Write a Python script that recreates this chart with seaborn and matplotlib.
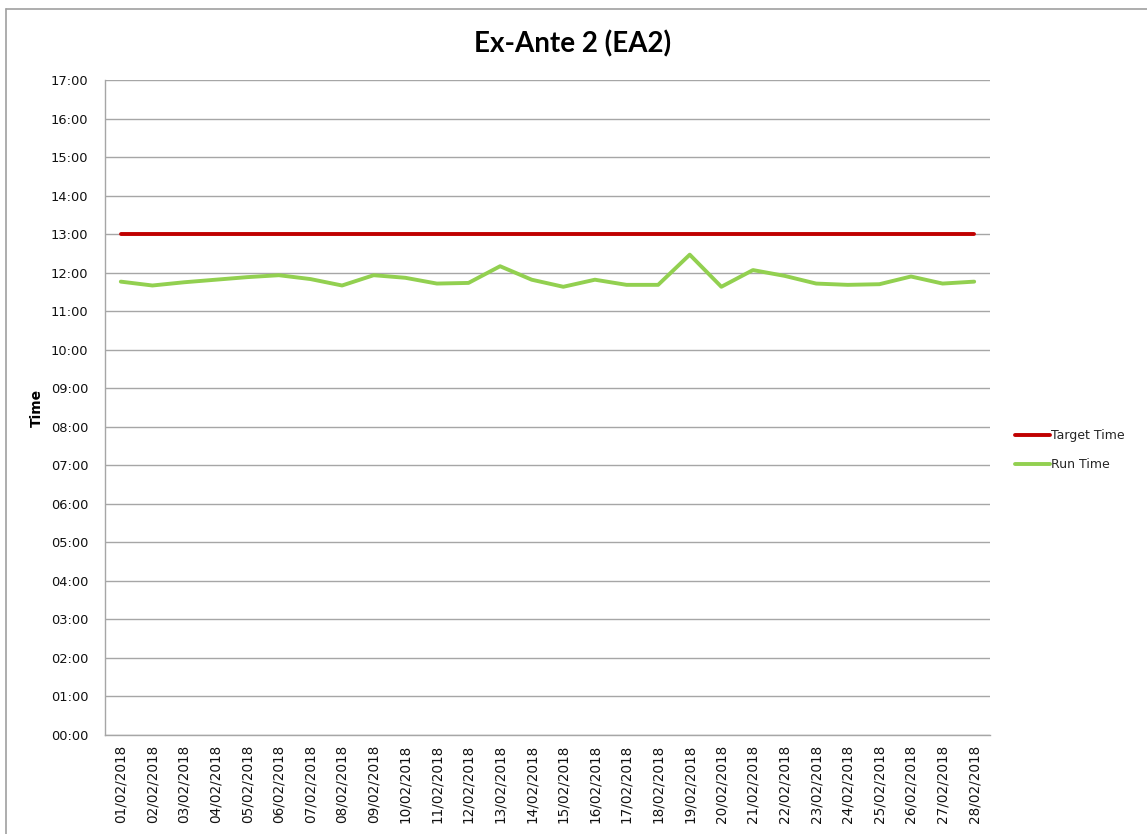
import matplotlib
matplotlib.use("Agg")
import matplotlib.pyplot as plt
from matplotlib.lines import Line2D
import seaborn as sns
import pandas as pd

dates = [f"{d:02d}/02/2018" for d in range(1, 29)]
run_times = ["11:46", "11:40", "11:45", "11:49", "11:53", "11:56", "11:50", "11:40",
             "11:56", "11:52", "11:43", "11:44", "12:10", "11:49", "11:38", "11:49",
             "11:41", "11:41", "12:28", "11:38", "12:04", "11:55", "11:43", "11:41",
             "11:42", "11:54", "11:43", "11:46"]
target_times = ["13:00"] * 28
y_ticks = [f"{h:02d}:00" for h in range(0, 18)]


def to_hours(s):
    h, m = s.split(":")
    return int(h) + int(m) / 60.0


df = pd.DataFrame({
    "Date": dates * 2,
    "Hours": [to_hours(t) for t in target_times] + [to_hours(t) for t in run_times],
    "Series": ["Target Time"] * 28 + ["Run Time"] * 28,
})

sns.set_theme(style="white")
plt.rcParams["font.family"] = ["DejaVu Sans"]

fig = plt.figure(figsize=(11.47, 8.34), dpi=100)
ax = fig.add_axes([105 / 1147, 1 - 735 / 834, (990 - 105) / 1147, (735 - 80) / 834])

sns.lineplot(data=df, x="Date", y="Hours", hue="Series",
             palette={"Target Time": "#C00000", "Run Time": "#92D050"},
             linewidth=2.8, ax=ax, legend=False, sort=False)

ax.set_xlim(-0.5, len(dates) - 0.5)
ax.set_ylim(0, 17)
ax.set_yticks(range(0, 18))
ax.set_yticklabels(y_ticks, fontsize=9.4, color="#111111")
ax.set_xticks(range(len(dates)))
ax.set_xticklabels(dates, rotation=90, fontsize=9.8, color="#111111")
ax.tick_params(axis="x", length=0, pad=7)
ax.tick_params(axis="y", length=0, pad=12)
ax.grid(axis="y", color="#a6a6a6", linewidth=1)
ax.grid(axis="x", visible=False)
ax.set_axisbelow(True)
for side in ["top", "right"]:
    ax.spines[side].set_visible(False)
for side in ["left", "bottom"]:
    ax.spines[side].set_color("#a6a6a6")
    ax.spines[side].set_linewidth(1)

ax.set_xlabel("")
ax.set_ylabel("")
fig.text(37 / 1147, 1 - 408 / 834, "Time", rotation=90, ha="center", va="center",
         fontsize=10, fontweight="bold", color="black")

fig.text(573 / 1147, 1 - 44 / 834, "Ex-Ante 2 (EA2)", ha="center", va="center",
         fontsize=20, fontweight="bold", color="black", family=["Lato", "DejaVu Sans"])

handles = [Line2D([0], [0], color="#C00000", lw=2.8),
           Line2D([0], [0], color="#92D050", lw=2.8)]
fig.legend(handles, ["Target Time", "Run Time"], loc="center left",
           bbox_to_anchor=(1015 / 1147, 1 - 450 / 834), frameon=False,
           fontsize=9, handlelength=2.8, handletextpad=0.05, labelspacing=1.3,
           borderpad=0, borderaxespad=0)

# outer chart border
fig.add_artist(Line2D([6 / 1147, 1], [1 - 9 / 834, 1 - 9 / 834],
                      transform=fig.transFigure, color="#a0a0a0", lw=1.2))
fig.add_artist(Line2D([6 / 1147, 6 / 1147], [0, 1 - 9 / 834],
                      transform=fig.transFigure, color="#a0a0a0", lw=1.2))

fig.savefig("out.png", dpi=100, facecolor="white")
